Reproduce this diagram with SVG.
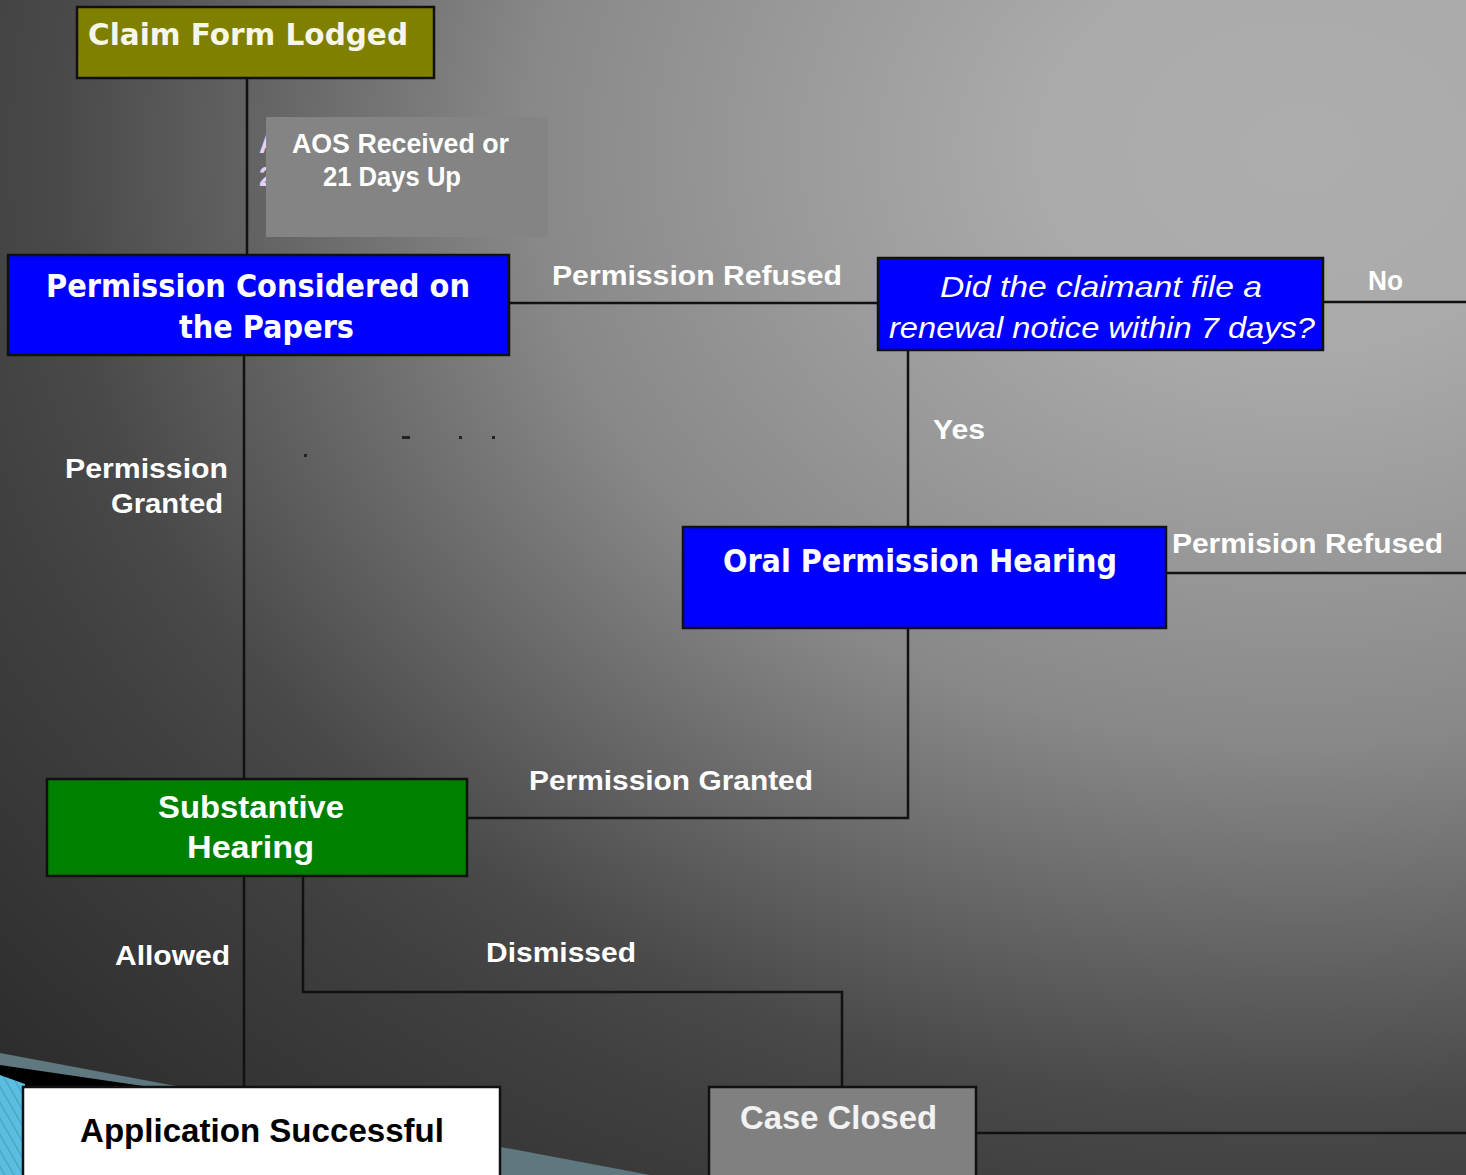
<svg xmlns="http://www.w3.org/2000/svg" width="1466" height="1175" viewBox="0 0 1466 1175">
<defs>
<radialGradient id="bg" gradientUnits="userSpaceOnUse" cx="1300" cy="150" r="1450" gradientTransform="translate(1300,150) scale(1.3,1) translate(-1300,-150)">
<stop offset="0" stop-color="#adadad"/>
<stop offset="0.14" stop-color="#aaaaaa"/>
<stop offset="0.28" stop-color="#999999"/>
<stop offset="0.41" stop-color="#888888"/>
<stop offset="0.56" stop-color="#626262"/>
<stop offset="0.66" stop-color="#494949"/>
<stop offset="0.73" stop-color="#404040"/>
<stop offset="1" stop-color="#262626"/>
</radialGradient>
<pattern id="stripes" patternUnits="userSpaceOnUse" width="8" height="8" patternTransform="rotate(-30)">
<rect width="8" height="8" fill="#5bbde0"/>
<rect width="1.2" height="8" fill="#4a9fc0"/>
</pattern>
<clipPath id="frag"><rect x="256" y="117" width="10" height="80"/></clipPath>
</defs>
<style>
.box{stroke:#111;stroke-width:2.5}
.ttl{font-family:"DejaVu Sans","Liberation Sans",sans-serif;font-weight:bold;fill:#ffffff}
.nar{font-family:"Liberation Sans",Arial,sans-serif;font-weight:bold;fill:#ffffff}
.lbl{font-family:"Liberation Sans",Arial,sans-serif;font-weight:bold;fill:#ffffff;font-size:27px}
.ita{font-family:"Liberation Sans",Arial,sans-serif;font-style:italic;fill:#ffffff;font-size:30px}
.ln{fill:none;stroke:#111;stroke-width:2.5}
</style>
<rect width="1466" height="1175" fill="url(#bg)"/>
<g id="corner-decoration">
<polygon points="0,1053 650,1175 0,1175" fill="#5f7880"/>
<polygon points="0,1065 150,1087 150,1175 0,1175" fill="#000"/>
<polygon points="0,1075 25,1084 25,1175 0,1175" fill="url(#stripes)"/>
</g>
<g id="specks" fill="#222">
<rect x="304" y="454" width="3" height="3"/>
<rect x="402" y="436" width="8" height="3"/>
<rect x="459" y="436" width="3" height="3"/>
<rect x="492" y="436" width="3" height="3"/>
</g>
<g id="connectors">
<path class="ln" d="M247,78 V255"/>
<path class="ln" d="M509,303 H878"/>
<path class="ln" d="M1323,302 H1466"/>
<path class="ln" d="M908,350 V527"/>
<path class="ln" d="M1166,573 H1466"/>
<path class="ln" d="M908,628 V818 H467"/>
<path class="ln" d="M244,356 V779"/>
<path class="ln" d="M244,877 V1087"/>
<path class="ln" d="M303,877 V992 H842 V1087"/>
<path class="ln" d="M976,1133 H1466"/>
</g>
<g id="labels">
<g clip-path="url(#frag)">
<text class="lbl" x="259" y="153" style="fill:#e6d0f0">A</text>
<text class="lbl" x="259" y="186" style="fill:#e6d0f0">2</text>
</g>
<rect x="266" y="117" width="282" height="120" fill="#848484"/>
<text class="lbl" x="292" y="153" textLength="217" lengthAdjust="spacingAndGlyphs">AOS Received or</text>
<text class="lbl" x="323" y="186" textLength="138" lengthAdjust="spacingAndGlyphs">21 Days Up</text>
<text class="lbl" x="552" y="285" textLength="290" lengthAdjust="spacingAndGlyphs">Permission Refused</text>
<text class="lbl" x="1368" y="290" textLength="35" lengthAdjust="spacingAndGlyphs">No</text>
<text class="lbl" x="933" y="439" textLength="52" lengthAdjust="spacingAndGlyphs">Yes</text>
<text class="lbl" x="65" y="478" textLength="163" lengthAdjust="spacingAndGlyphs">Permission</text>
<text class="lbl" x="111" y="513" textLength="112" lengthAdjust="spacingAndGlyphs">Granted</text>
<text class="lbl" x="1172" y="553" textLength="271" lengthAdjust="spacingAndGlyphs">Permision Refused</text>
<text class="lbl" x="529" y="790" textLength="284" lengthAdjust="spacingAndGlyphs">Permission Granted</text>
<text class="lbl" x="115" y="965" textLength="115" lengthAdjust="spacingAndGlyphs">Allowed</text>
<text class="lbl" x="486" y="962" textLength="150" lengthAdjust="spacingAndGlyphs">Dismissed</text>
</g>
<g id="claim-form-lodged">
<rect class="box" x="77" y="7" width="357" height="71" fill="#808000"/>
<text class="ttl" x="88" y="45" font-size="31" style="fill:#f6f6ea" textLength="320" lengthAdjust="spacingAndGlyphs">Claim Form Lodged</text>
</g>
<g id="permission-papers">
<rect class="box" x="8" y="255" width="501" height="100" fill="#0000ff"/>
<text class="ttl" x="46" y="297" font-size="32" textLength="424" lengthAdjust="spacingAndGlyphs">Permission Considered on</text>
<text class="ttl" x="179" y="338" font-size="32" textLength="175" lengthAdjust="spacingAndGlyphs">the Papers</text>
</g>
<g id="renewal-question">
<rect class="box" x="878" y="258" width="445" height="92" fill="#0000ff"/>
<text class="ita" x="940" y="297" textLength="322" lengthAdjust="spacingAndGlyphs">Did the claimant file a</text>
<text class="ita" x="889" y="338" textLength="426" lengthAdjust="spacingAndGlyphs">renewal notice within 7 days?</text>
</g>
<g id="oral-hearing">
<rect class="box" x="683" y="527" width="483" height="101" fill="#0000ff"/>
<text class="ttl" x="723" y="572" font-size="32" textLength="394" lengthAdjust="spacingAndGlyphs">Oral Permission Hearing</text>
</g>
<g id="substantive-hearing">
<rect class="box" x="47" y="779" width="420" height="97" fill="#008000"/>
<text class="nar" x="158" y="818" font-size="32" textLength="186" lengthAdjust="spacingAndGlyphs">Substantive</text>
<text class="nar" x="187" y="858" font-size="32" textLength="127" lengthAdjust="spacingAndGlyphs">Hearing</text>
</g>
<g id="application-successful">
<rect class="box" x="23" y="1087" width="477" height="100" fill="#ffffff"/>
<text class="nar" x="80" y="1142" font-size="34" style="fill:#000" textLength="364" lengthAdjust="spacingAndGlyphs">Application Successful</text>
</g>
<g id="case-closed">
<rect class="box" x="709" y="1087" width="267" height="100" fill="#808080"/>
<text class="nar" x="740" y="1129" font-size="34" style="fill:#f2f2f2" textLength="197" lengthAdjust="spacingAndGlyphs">Case Closed</text>
</g>
</svg>
